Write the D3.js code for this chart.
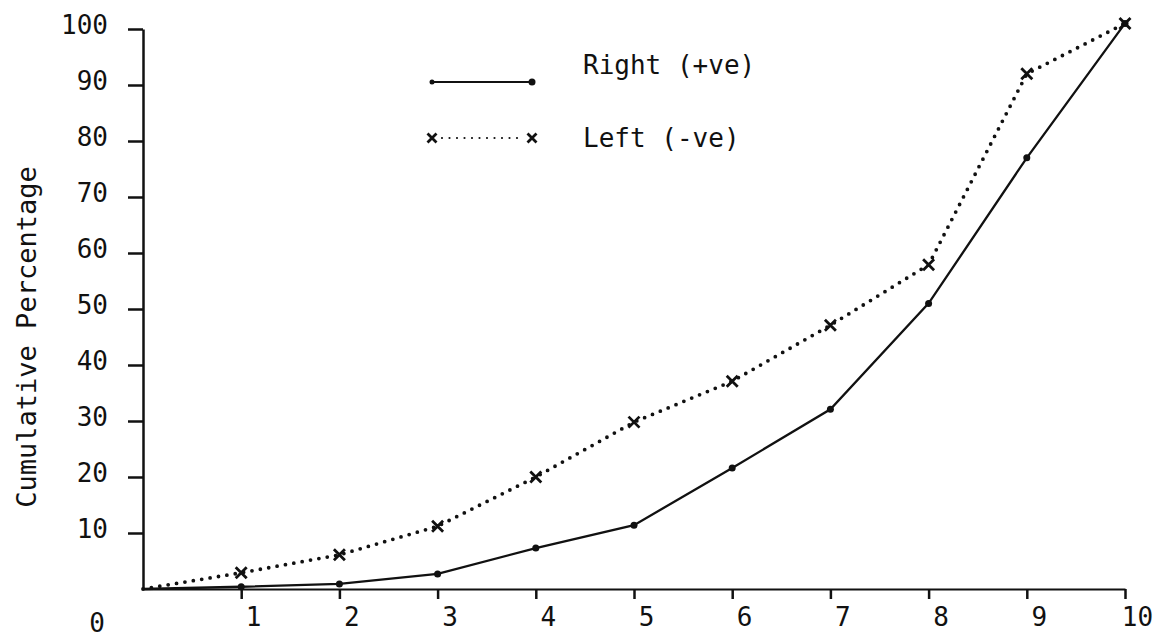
<!DOCTYPE html>
<html>
<head>
<meta charset="utf-8">
<script src="https://cdn.jsdelivr.net/npm/d3@7"></script>
<style>
  body { margin: 0; background: #fff; }
  text { font-family: "DejaVu Sans Mono", monospace; fill: #111; }
</style>
</head>
<body>
<div id="chart"></div>
<script>
// values
const xValues = [0, 1, 2, 3, 4, 5, 6, 7, 8, 9, 10];
const rightValues = [0, 0.4, 0.9, 2.7, 7.3, 11.4, 21.6, 32.1, 51, 77, 101];
const leftValues = [0, 2.9, 6.1, 11.2, 20, 29.8, 37.1, 47.1, 57.9, 92, 101];
const xTicks = [1, 2, 3, 4, 5, 6, 7, 8, 9, 10];
const yTicks = [10, 20, 30, 40, 50, 60, 70, 80, 90, 100];
const seriesNames = ["Right (+ve)", "Left (-ve)"];

const width = 1160;
const height = 641;

const x = d3.scaleLinear().domain([0, 10]).range([143, 1125]);
const y = d3.scaleLinear().domain([0, 100]).range([589, 29]);

const svg = d3
  .select("#chart")
  .append("svg")
  .attr("width", width)
  .attr("height", height)
  .style("background", "#fff");

// y axis
const yAxis = svg
  .append("g")
  .attr("transform", `translate(${x(0)},0)`)
  .call(
    d3.axisLeft(y).tickValues(yTicks).tickSize(15).tickSizeOuter(0).tickPadding(20)
  );
yAxis.select(".domain").attr("stroke", "#111").attr("stroke-width", 2.5);
yAxis.selectAll(".tick line").attr("stroke", "#111").attr("stroke-width", 2.5);
yAxis
  .selectAll(".tick text")
  .attr("y", -4)
  .style("font-size", "26px");

// x axis
const xAxis = svg
  .append("g")
  .attr("transform", `translate(0,${y(0)})`)
  .call(
    d3.axisBottom(x).tickValues(xTicks).tickSize(10).tickSizeOuter(0).tickPadding(9)
  );
xAxis.select(".domain").attr("stroke", "#111").attr("stroke-width", 2);
xAxis.selectAll(".tick line").attr("stroke", "#111").attr("stroke-width", 2.5);
xAxis
  .selectAll(".tick text")
  .attr("dx", 12)
  .style("font-size", "26px");

// lone zero label under the y labels
svg
  .append("text")
  .attr("x", x(0) - 38)
  .attr("y", y(0) + 43)
  .attr("text-anchor", "end")
  .style("font-size", "26px")
  .text("0");

// y title
svg
  .append("text")
  .attr("transform", `translate(36,${(y(0) + y(100)) / 2 + 28}) rotate(-90)`)
  .attr("text-anchor", "middle")
  .style("font-size", "27px")
  .text("Cumulative Percentage");

const line = d3
  .line()
  .x((d) => x(d[0]))
  .y((d) => y(d[1]));

const rightPts = xValues.map((v, i) => [v, rightValues[i]]);
const leftPts = xValues.map((v, i) => [v, leftValues[i]]);

// Right (+ve): solid line with dots
svg
  .append("path")
  .datum(rightPts)
  .attr("fill", "none")
  .attr("stroke", "#111")
  .attr("stroke-width", 2.3)
  .attr("d", line);

svg
  .selectAll(".rdot")
  .data(rightPts.slice(1))
  .join("circle")
  .attr("class", "rdot")
  .attr("cx", (d) => x(d[0]))
  .attr("cy", (d) => y(d[1]))
  .attr("r", 3.5)
  .attr("fill", "#111");

// Left (-ve): dotted line with crosses
svg
  .append("path")
  .datum(leftPts)
  .attr("fill", "none")
  .attr("stroke", "#111")
  .attr("stroke-width", 3.8)
  .attr("stroke-linecap", "round")
  .attr("stroke-dasharray", "0,8.5")
  .attr("d", line);

const cross = (g, cx, cy, s) => {
  g.append("path")
    .attr("d", `M${cx - s},${cy - s}L${cx + s},${cy + s}M${cx - s},${cy + s}L${cx + s},${cy - s}`)
    .attr("stroke", "#111")
    .attr("stroke-width", 2.8)
    .attr("fill", "none");
};

leftPts.slice(1).forEach((d) => cross(svg, x(d[0]), y(d[1]), 5.5));

// legend
const legend = svg.append("g");
const lx0 = 432, lx1 = 532;
const ly = [82, 138];

legend
  .append("line")
  .attr("x1", lx0)
  .attr("x2", lx1)
  .attr("y1", ly[0])
  .attr("y2", ly[0])
  .attr("stroke", "#111")
  .attr("stroke-width", 2);
[lx0, lx1].forEach((cx, i) =>
  legend
    .append("circle")
    .attr("cx", cx)
    .attr("cy", ly[0])
    .attr("r", i ? 3.5 : 2.5)
    .attr("fill", "#111")
);

legend
  .append("line")
  .attr("x1", lx0 + 10)
  .attr("x2", lx1 - 8)
  .attr("y1", ly[1])
  .attr("y2", ly[1])
  .attr("stroke", "#111")
  .attr("stroke-width", 2.2)
  .attr("stroke-linecap", "round")
  .attr("stroke-dasharray", "0,7.5");
[lx0, lx1].forEach((cx) => cross(legend, cx, ly[1], 4.5));

legend
  .selectAll(".ltext")
  .data(seriesNames)
  .join("text")
  .attr("class", "ltext")
  .attr("x", 583)
  .attr("y", (d, i) => (i ? 147 : 74))
  .style("font-size", "26px")
  .text((d) => d);
</script>
</body>
</html>
